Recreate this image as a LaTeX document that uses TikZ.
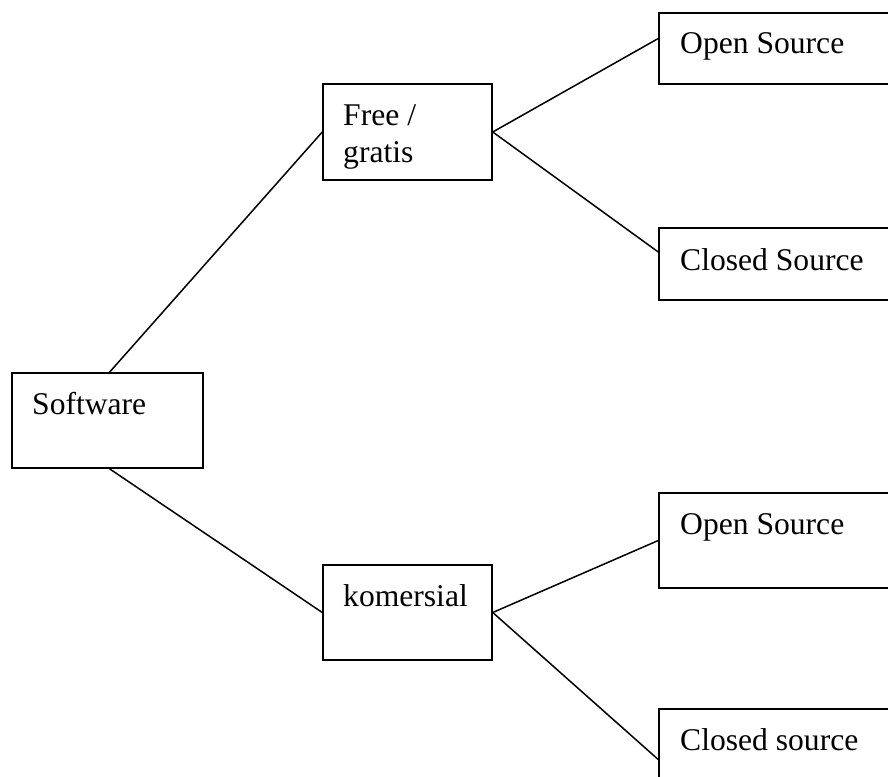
\documentclass[tikz,border=0pt]{standalone}
\usepackage{fontspec}
\setmainfont{Liberation Serif}
\begin{document}
\begin{tikzpicture}[x=1pt,y=-1pt,
  box/.style={draw,line width=1.5pt,rectangle,inner sep=0pt},
  lbl/.style={anchor=base west,inner sep=0pt,font=\fontsize{31.6}{37}\selectfont,align=left},
  conn/.style={line width=1.5pt}]
\useasboundingbox (0,0) rectangle (888,776);
% boxes
\node[box,minimum width=191pt,minimum height=95pt] (sw) at (107.5,420.5) {};
\node[box,minimum width=169pt,minimum height=96pt] (free) at (407.5,132) {};
\node[box,minimum width=169pt,minimum height=95pt] (kom) at (407.5,612.5) {};
\node[box,minimum width=261pt,minimum height=71pt] (os1) at (789.5,48.5) {};
\node[box,minimum width=261pt,minimum height=72pt] (cs1) at (789.5,264) {};
\node[box,minimum width=261pt,minimum height=95pt] (os2) at (789.5,540.5) {};
\node[box,minimum width=261pt,minimum height=95pt] (cs2) at (789.5,756.5) {};
% labels
\node[lbl] (tsw) at (32,414) {Software};
\node[lbl] (tfree) at (343,162) {Free /\\gratis};
\node[lbl] (tkom) at (343,606) {komersial};
\node[lbl] (tos1) at (680,54) {Open Source};
\node[lbl] (tcs1) at (680,270) {Closed Source};
\node[lbl] (tos2) at (680,534) {Open Source};
\node[lbl] (tcs2) at (680,750) {Closed source};
% connectors
\draw[conn] ([xshift=2pt]sw.north) -- (free.west);
\draw[conn] ([xshift=2pt]sw.south) -- (kom.west);
\draw[conn] (free.east) -- ([yshift=10pt]os1.west);
\draw[conn] (free.east) -- ([yshift=12pt]cs1.west);
\draw[conn] (kom.east) -- (os2.west);
\draw[conn] (kom.east) -- ([yshift=-3pt]cs2.west);
\end{tikzpicture}
\end{document}
